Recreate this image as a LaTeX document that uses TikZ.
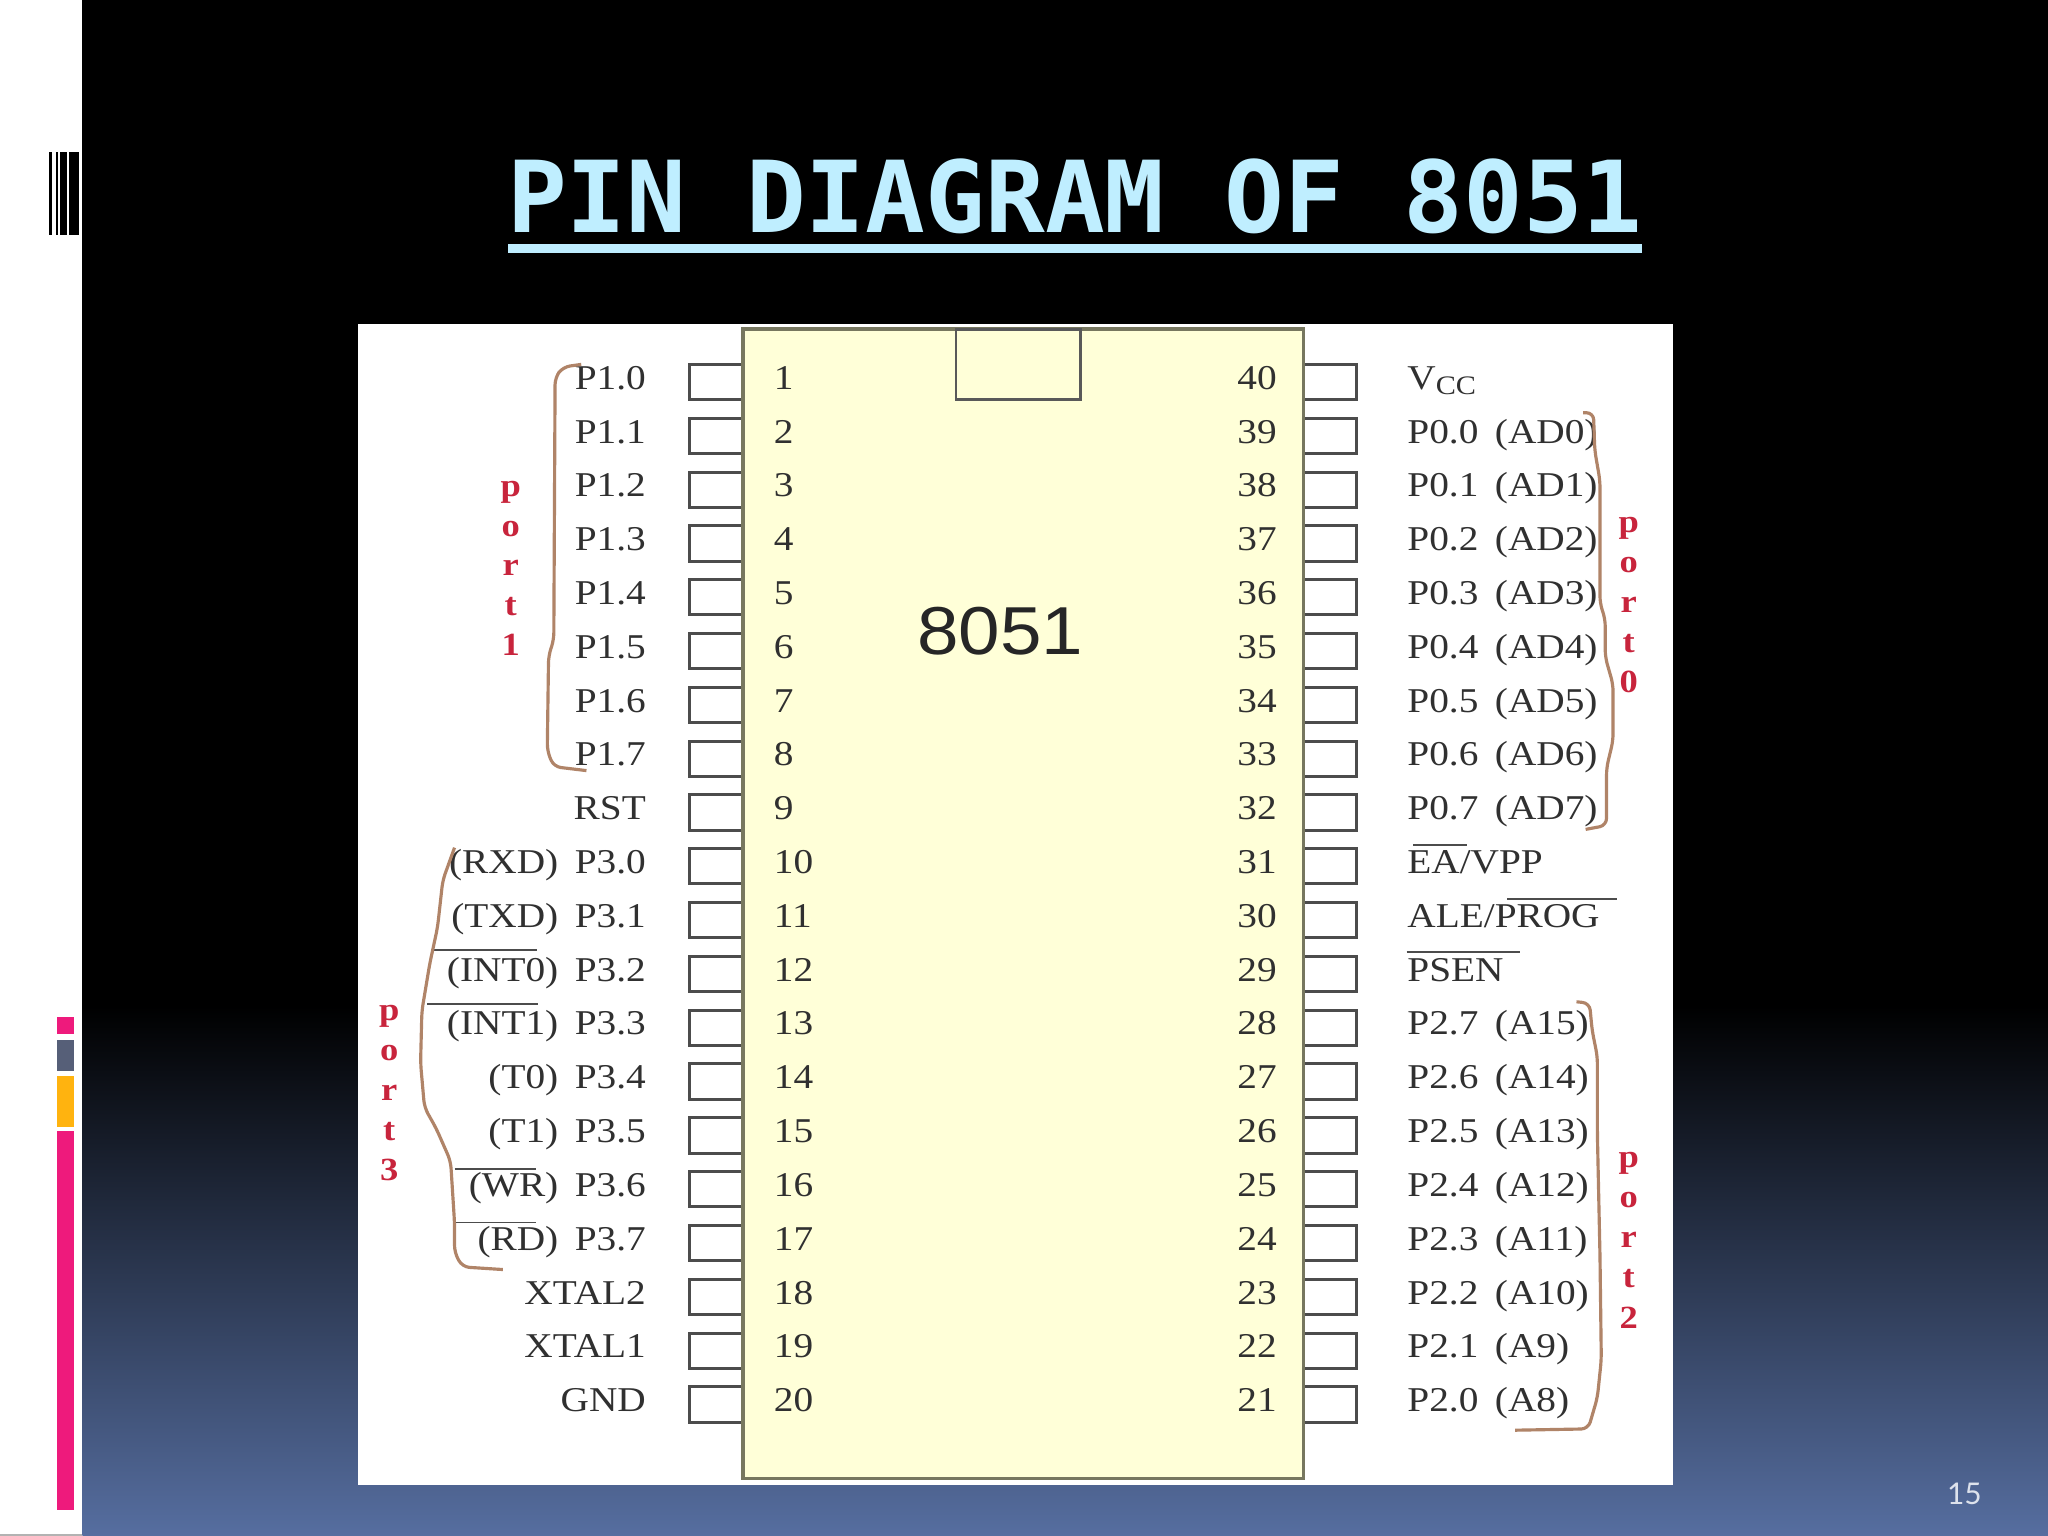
\documentclass[tikz,border=0pt]{standalone}
\usepackage{fontspec}
\setmainfont[FakeStretch=1.13]{Liberation Serif}
\newfontfamily\titlefont{DejaVu Sans Mono}
\newfontfamily\chipfont[FakeStretch=1.1]{Liberation Sans}
\newfontfamily\pagefont{Lato}
\definecolor{titleblue}{HTML}{BFEEFF}
\definecolor{slidebottom}{HTML}{566EA0}
\definecolor{chipfill}{HTML}{FFFFD8}
\definecolor{chipedge}{HTML}{77775F}
\definecolor{pintext}{HTML}{303030}
\definecolor{portred}{HTML}{C8243C}
\definecolor{bracebrown}{HTML}{B08468}
\definecolor{barpink}{HTML}{EE1A7C}
\definecolor{barslate}{HTML}{565F78}
\definecolor{barorange}{HTML}{FFB30F}
\tikzset{
  pinbox/.style={draw=black!70, line width=0.85pt, fill=white, minimum width=41*0.013061cm, minimum height=27*0.013061cm, inner sep=0pt, outer sep=0pt},
  pinlabel/.style={text=pintext, font=\fontsize{9.9}{11}\selectfont, inner sep=0pt},
  portletter/.style={text=portred, font=\fontsize{9.2}{10}\selectfont\bfseries, inner sep=0pt, anchor=base},
  handbrace/.style={draw=bracebrown, line width=0.9pt, line join=round, rounded corners=2pt},
  barline/.style={draw=black!70, line width=0.55pt}
}
\begin{document}
\begin{tikzpicture}[x=0.013061cm, y=-0.013061cm]
  \useasboundingbox (0,0) rectangle (1568,1176);

  % Draw slide background
  \fill[white] (0,0) rectangle (1568,1176);
  \fill[black!30] (0,1174.5) rectangle (63,1176);
  \fill[black] (63,0) rectangle (1568,770);
  \shade[top color=black, bottom color=slidebottom] (63,770) rectangle (1568,1176);

  % Draw left side decoration
  \foreach \x/\xe in {37.5/39.5, 42.6/44.2, 46/51.3, 53.2/60.5}
    \fill[black] (\x,116.5) rectangle (\xe,180);
  \fill[barpink] (44,779) rectangle (57,792);
  \fill[barslate] (44,796) rectangle (57,820);
  \fill[barorange] (44,824) rectangle (57,863);
  \fill[barpink] (44,866) rectangle (57,1156);

  % Title
  \node[anchor=base, text=titleblue, inner sep=0pt, font=\titlefont\fontsize{28.25}{30}\selectfont\bfseries] (title) at (823,178) {PIN DIAGRAM OF 8051};
  \fill[titleblue] (389,187) rectangle (1257,194);

  % Picture background
  \fill[white] (274,248) rectangle (1281,1137);

  % Draw pins, the chip goes on top of them
  \foreach \n in {1,...,20} {
    \pgfmathsetmacro{\ypin}{292.5+41.2*(\n-1)}
    \node[pinbox] (L\n) at (548.5,\ypin) {};
    \node[pinbox] (R\n) at (1018,\ypin) {};
  }
  \draw[draw=chipedge, fill=chipfill, line width=1.1pt] (569,252) rectangle (998,1132);
  \draw[draw=black!65, line width=0.8pt] (732,252) rectangle (827,306);
  \node[text=black!85, inner sep=0pt, font=\chipfont\fontsize{19.3}{22}\selectfont] (chip) at (766,483) {8051};

  % Pin numbers
  \foreach \n in {1,...,20} {
    \pgfmathsetmacro{\ypin}{298+41.2*(\n-1)}
    \pgfmathtruncatemacro{\m}{41-\n}
    \node[pinlabel, anchor=base west] (NL\n) at (592,\ypin) {\n};
    \node[pinlabel, anchor=base east] (NR\n) at (978,\ypin) {\m};
  }

  % Left labels
  \foreach \n/\t in {1/P1.0, 2/P1.1, 3/P1.2, 4/P1.3, 5/P1.4, 6/P1.5, 7/P1.6, 8/P1.7, 9/RST,
      10/P3.0, 11/P3.1, 12/P3.2, 13/P3.3, 14/P3.4, 15/P3.5, 16/P3.6, 17/P3.7, 18/XTAL2, 19/XTAL1, 20/GND} {
    \pgfmathsetmacro{\ypin}{298+41.2*(\n-1)}
    \node[pinlabel, anchor=base east] (TL\n) at (495,\ypin) {\t};
  }
  \foreach \n/\t in {10/(RXD), 11/(TXD), 12/(INT0), 13/(INT1), 14/(T0), 15/(T1), 16/(WR), 17/(RD)} {
    \pgfmathsetmacro{\ypin}{298+41.2*(\n-1)}
    \node[pinlabel, anchor=base east] (AL\n) at (428,\ypin) {\t};
  }

  % Right labels
  \foreach \n/\t in {39/P0.0, 38/P0.1, 37/P0.2, 36/P0.3, 35/P0.4, 34/P0.5, 33/P0.6, 32/P0.7,
      31/{EA/VPP}, 30/{ALE/PROG}, 29/PSEN,
      28/P2.7, 27/P2.6, 26/P2.5, 25/P2.4, 24/P2.3, 23/P2.2, 22/P2.1, 21/P2.0} {
    \pgfmathsetmacro{\ypin}{298+41.2*(40-\n)}
    \node[pinlabel, anchor=base west] (TR\n) at (1077,\ypin) {\t};
  }
  \node[pinlabel, anchor=base west] (TR40) at (1077,298) {V\raisebox{-0.35ex}{\fontsize{7.6}{8}\selectfont CC}};
  \foreach \n/\t in {39/(AD0), 38/(AD1), 37/(AD2), 36/(AD3), 35/(AD4), 34/(AD5), 33/(AD6), 32/(AD7),
      28/(A15), 27/(A14), 26/(A13), 25/(A12), 24/(A11), 23/(A10), 22/(A9), 21/(A8)} {
    \pgfmathsetmacro{\ypin}{298+41.2*(40-\n)}
    \node[pinlabel, anchor=base west] (AR\n) at (1144,\ypin) {\t};
  }

  % Bars over the active low names
  \draw[barline] (331,727) -- (411,727);
  \draw[barline] (327,769) -- (412,769);
  \draw[barline] (348,895) -- (410,895);
  \draw[barline] (348,936) -- (410,936);
  \draw[barline] (1082,647) -- (1123,647);
  \draw[barline] (1154,688) -- (1238,688);
  \draw[barline] (1077,729) -- (1164,729);

  % Hand drawn braces
  \draw[handbrace] (445,279) -- (431,281) -- (425,289) -- (424,490) -- (420,502) -- (419,575) -- (424,587) -- (449,590);
  \draw[handbrace] (348,649) -- (339,674) -- (335,710) -- (329,738) -- (323,774) -- (322,814) -- (325,848) -- (334,864) -- (345,889) -- (348,936) -- (348,959) -- (354,970) -- (385,972);
  \draw[handbrace] (1212,316) -- (1220,316) -- (1221,345) -- (1225,368) -- (1225,462) -- (1229,474) -- (1229,503) -- (1235,524) -- (1235,567) -- (1230,588) -- (1230,632) -- (1214,635);
  \draw[handbrace] (1207,767) -- (1217,768) -- (1219,789) -- (1223,809) -- (1223,868) -- (1225,962) -- (1226,1041) -- (1223,1070) -- (1216,1094) -- (1160,1095);

  % Port names, one letter under the other
  \foreach \t [count=\i from 0] in {p,o,r,t,1}
    \node[portletter] (pa\i) at (391,380+30.5*\i) {\t};
  \foreach \t [count=\i from 0] in {p,o,r,t,3}
    \node[portletter] (pb\i) at (298,781+30.7*\i) {\t};
  \foreach \t [count=\i from 0] in {p,o,r,t,0}
    \node[portletter] (pc\i) at (1247,408+30.5*\i) {\t};
  \foreach \t [count=\i from 0] in {p,o,r,t,2}
    \node[portletter] (pd\i) at (1247,894+30.7*\i) {\t};

  % Page number
  \node[text=white!80!slidebottom, inner sep=0pt, font=\pagefont\fontsize{8.5}{10}\selectfont] (page) at (1504,1144) {15};
\end{tikzpicture}
\end{document}
